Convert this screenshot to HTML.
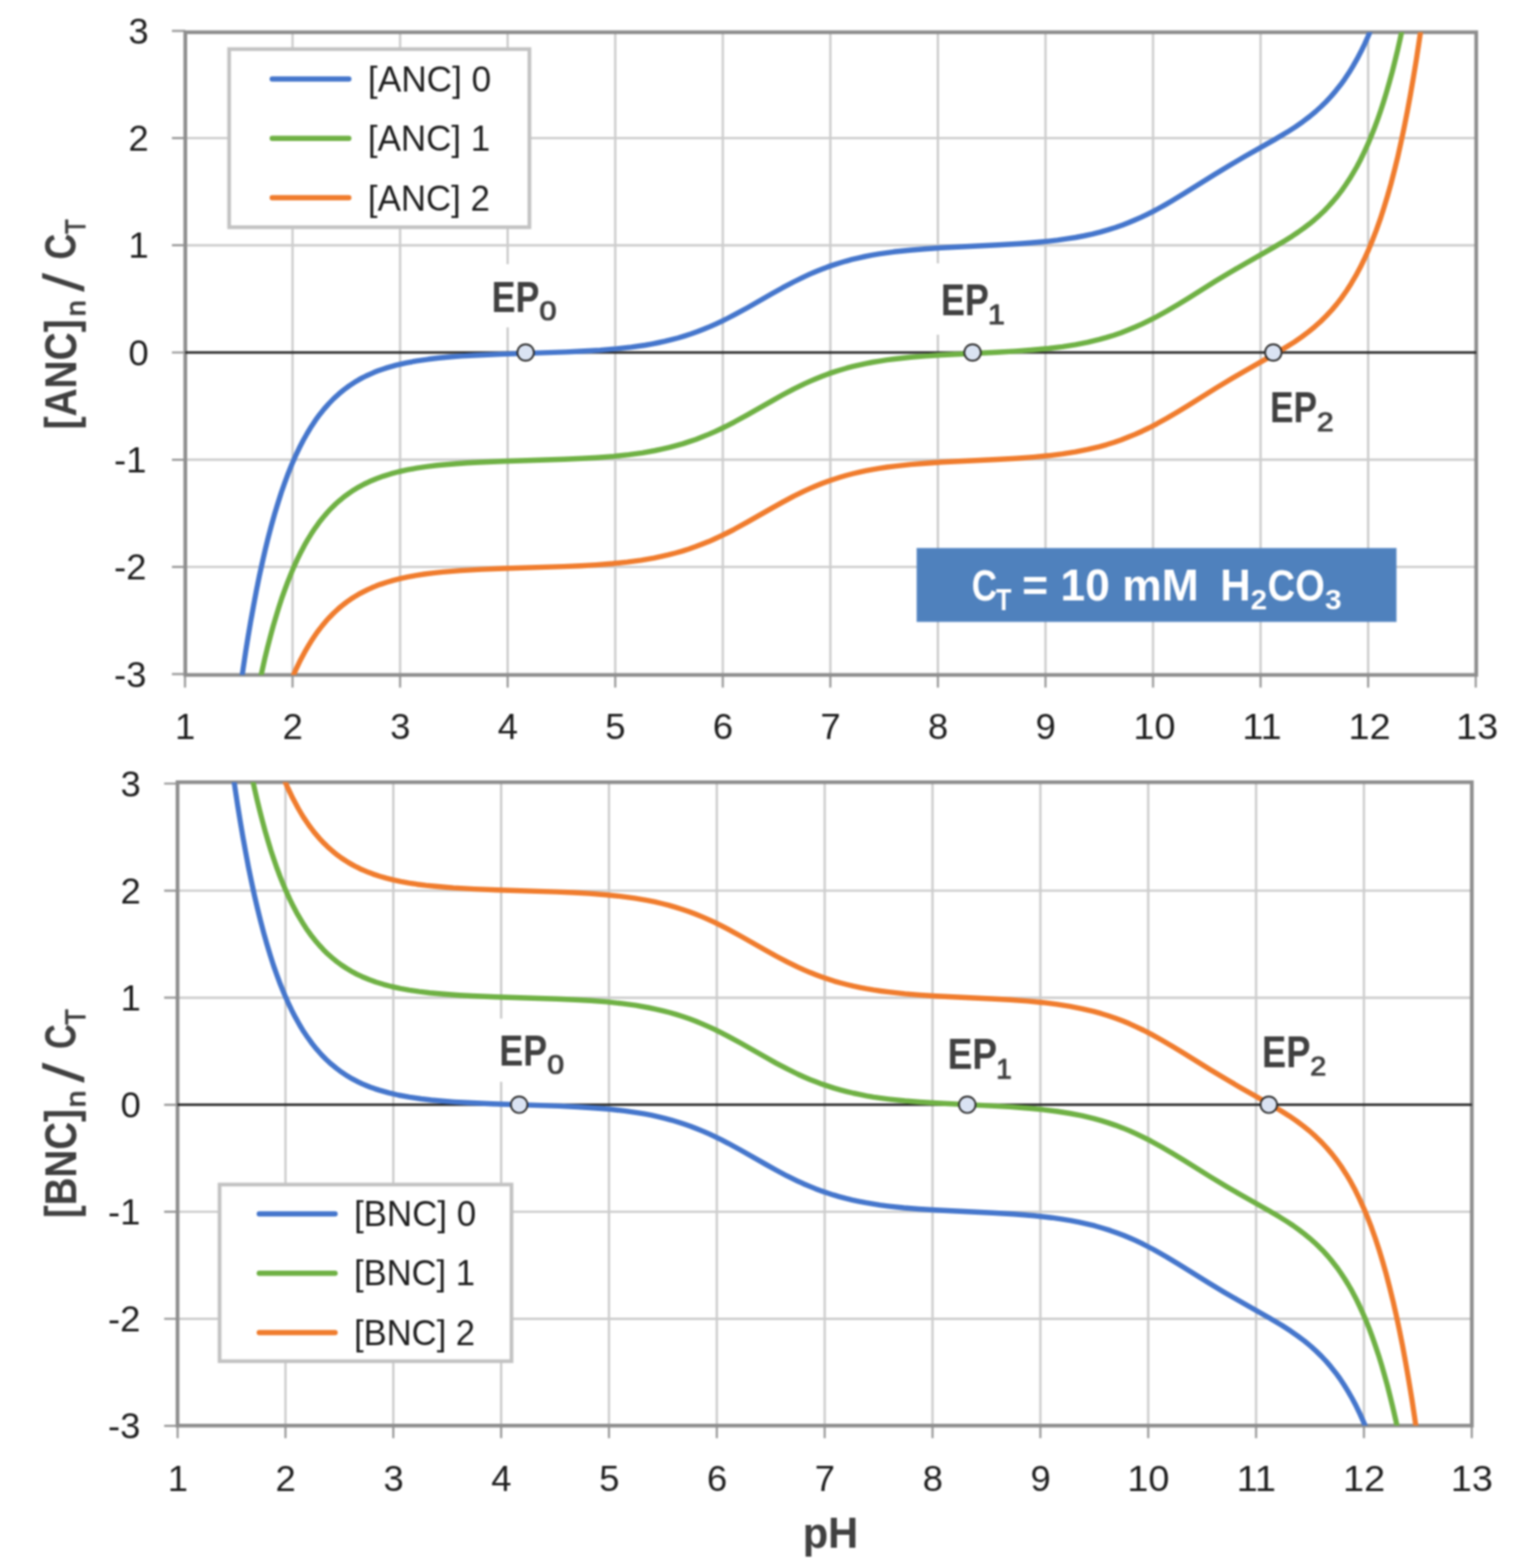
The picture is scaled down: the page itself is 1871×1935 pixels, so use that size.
<!DOCTYPE html><html><head><meta charset="utf-8"><style>html,body{margin:0;padding:0;background:#fff}svg{display:block;filter:blur(0.9px)}text{font-family:"Liberation Sans", sans-serif}</style></head><body>
<svg width="1871" height="1935" viewBox="0 0 1871 1935">
<rect width="1871" height="1935" fill="#fff"/>
<defs><clipPath id="clip0"><rect x="228.70" y="39.80" width="1593.20" height="793.10"/></clipPath></defs>
<path d="M361.05,39.80V832.90 M493.80,39.80V832.90 M626.55,39.80V832.90 M759.30,39.80V832.90 M892.05,39.80V832.90 M1024.80,39.80V832.90 M1157.55,39.80V832.90 M1290.30,39.80V832.90 M1423.05,39.80V832.90 M1555.80,39.80V832.90 M1688.55,39.80V832.90 M228.70,699.60H1821.90 M228.70,567.30H1821.90 M228.70,302.70H1821.90 M228.70,170.40H1821.90" stroke="#cdcdcd" stroke-width="2.9" fill="none"/>
<path d="M228.30,832.90V848.40 M361.05,832.90V848.40 M493.80,832.90V848.40 M626.55,832.90V848.40 M759.30,832.90V848.40 M892.05,832.90V848.40 M1024.80,832.90V848.40 M1157.55,832.90V848.40 M1290.30,832.90V848.40 M1423.05,832.90V848.40 M1555.80,832.90V848.40 M1688.55,832.90V848.40 M1821.30,832.90V848.40 M212.20,831.90H228.70 M212.20,699.60H228.70 M212.20,567.30H228.70 M212.20,435.00H228.70 M212.20,302.70H228.70 M212.20,170.40H228.70 M212.20,38.10H228.70" stroke="#9c9c9c" stroke-width="2.7" fill="none"/>
<rect x="228.70" y="39.80" width="1593.20" height="793.10" fill="none" stroke="#8e8e8e" stroke-width="4.6"/>
<path d="M228.70,435.00H1821.90" stroke="#262626" stroke-width="3.0"/>
<g clip-path="url(#clip0)" fill="none" stroke-width="6.4" stroke-linejoin="round">
<g transform="translate(1.2,1.0)">
<path d="M292.3,871.1L295.5,847.6L298.7,825.4L301.8,804.5L305.0,784.6L308.2,765.8L311.7,746.6L315.1,728.5L318.8,710.1L322.3,694.2L326.0,678.0L329.7,662.8L333.7,647.6L337.7,633.4L341.7,620.2L345.9,607.0L350.2,594.8L354.4,583.4L358.9,572.3L363.4,561.9L368.2,551.8L373.0,542.5L377.8,534.0L382.8,525.7L388.1,517.7L393.4,510.4L399.0,503.5L404.9,496.9L410.7,490.9L416.8,485.3L423.2,480.0L429.8,475.1L436.7,470.6L441.2,467.9L445.7,465.4L450.5,463.0L455.3,460.8L460.3,458.6L465.4,456.6L470.7,454.7L476.3,452.9L487.7,449.7L499.9,446.8L513.2,444.4L527.5,442.3L540.0,440.8L553.5,439.5L568.1,438.4L584.3,437.5L615.9,436.1L697.7,433.4L720.0,432.3L739.4,431.1L759.6,429.4L777.9,427.4L794.9,425.0L802.8,423.6L810.8,422.0L819.3,420.2L827.5,418.2L835.8,416.0L843.7,413.6L851.7,411.0L859.4,408.3L867.1,405.3L874.8,402.1L882.2,398.8L889.7,395.3L897.4,391.5L905.3,387.4L921.3,378.7L951.8,361.3L964.5,354.2L978.1,347.0L990.6,340.8L998.0,337.4L1005.4,334.2L1012.9,331.2L1020.3,328.4L1027.7,325.9L1035.2,323.5L1042.6,321.3L1050.3,319.2L1058.3,317.3L1066.5,315.5L1074.7,313.9L1083.5,312.4L1092.5,311.1L1101.8,309.8L1121.7,307.7L1139.8,306.2L1160.5,304.8L1230.8,301.3L1256.8,299.8L1269.9,298.8L1281.8,297.8L1293.2,296.6L1303.8,295.4L1315.5,293.7L1326.4,292.0L1336.8,290.0L1346.9,287.8L1356.7,285.3L1366.2,282.6L1375.5,279.7L1384.8,276.4L1392.3,273.5L1399.4,270.5L1406.6,267.3L1414.0,263.8L1421.5,260.1L1429.2,256.0L1437.1,251.6L1445.4,246.8L1460.2,237.8L1497.1,214.8L1515.7,203.5L1534.8,192.3L1571.7,171.4L1587.4,162.1L1597.5,155.6L1606.5,149.3L1615.0,142.9L1622.7,136.5L1629.3,130.5L1635.7,124.2L1641.6,117.9L1647.4,111.1L1653.0,104.1L1658.3,96.8L1663.6,88.8L1668.6,80.6L1673.7,71.7L1678.5,62.6L1683.0,53.3L1687.5,43.3L1691.7,33.2L1696.0,22.3L1700.2,10.7L1704.2,-1.1" stroke="#4576cc"/>
<path d="M313.3,870.4L319.4,839.9L322.6,825.3L325.7,811.4L328.9,798.3L332.4,784.8L335.8,772.2L339.3,760.3L342.7,749.1L346.4,737.7L350.2,727.1L353.9,717.1L357.9,707.1L361.8,697.8L365.8,689.1L370.1,680.4L374.3,672.4L378.6,664.9L383.1,657.6L387.6,650.8L392.4,644.1L397.2,638.0L402.2,632.1L407.2,626.7L412.6,621.4L417.9,616.7L423.4,612.1L429.3,607.8L435.4,603.7L441.5,600.1L448.1,596.5L454.8,593.3L463.3,589.7L472.0,586.6L481.3,583.7L491.4,581.0L502.0,578.7L513.2,576.7L525.1,574.9L538.1,573.3L549.6,572.2L562.0,571.2L575.3,570.3L589.9,569.5L618.9,568.3L695.3,565.8L717.1,564.8L735.9,563.7L756.4,562.1L774.7,560.1L791.7,557.8L807.4,555.0L816.1,553.2L824.9,551.2L833.4,548.9L841.6,546.6L849.8,543.9L857.8,541.2L865.8,538.1L873.7,534.9L881.2,531.6L888.9,528.0L896.8,524.1L905.1,519.8L921.0,511.1L951.8,493.6L964.8,486.3L978.3,479.1L991.1,472.9L998.8,469.4L1006.2,466.2L1013.6,463.2L1021.1,460.4L1028.5,457.9L1036.2,455.5L1043.9,453.2L1051.6,451.2L1059.6,449.3L1067.5,447.6L1075.8,446.0L1084.5,444.6L1093.6,443.2L1102.9,442.0L1123.0,439.8L1141.1,438.4L1161.5,437.0L1229.0,433.7L1252.3,432.4L1273.8,430.8L1293.0,429.0L1310.2,426.8L1326.1,424.3L1341.3,421.3L1355.6,417.9L1364.6,415.4L1373.4,412.7L1382.2,409.7L1390.9,406.3L1399.4,402.8L1408.2,398.9L1416.9,394.7L1426.0,390.0L1438.7,383.0L1452.8,374.7L1465.5,366.9L1499.2,345.8L1518.9,333.9L1536.2,323.9L1570.1,304.6L1584.7,296.0L1593.2,290.7L1600.9,285.5L1608.1,280.4L1614.7,275.4L1621.1,270.2L1627.2,264.8L1633.1,259.2L1638.6,253.4L1643.9,247.5L1649.3,241.1L1654.3,234.6L1659.3,227.5L1664.1,220.3L1668.6,212.9L1673.2,205.0L1677.7,196.5L1681.9,187.9L1686.2,178.7L1690.4,168.7L1694.4,158.8L1698.4,148.2L1702.4,136.8L1706.1,125.5L1709.8,113.4L1713.5,100.5L1717.0,87.9L1720.4,74.4L1723.6,61.2L1727.0,46.2L1730.2,31.4L1733.4,15.9L1736.6,-0.6" stroke="#6fb144"/>
<path d="M346.2,870.8L351.8,855.0L357.6,840.1L363.7,825.9L369.8,813.2L376.2,801.3L379.4,795.9L382.8,790.3L386.3,785.0L389.7,780.0L393.2,775.4L396.9,770.6L400.6,766.2L404.3,762.0L408.3,757.9L412.3,754.0L416.3,750.3L420.5,746.7L424.8,743.4L429.0,740.3L433.5,737.2L438.0,734.4L442.8,731.6L447.6,729.1L452.6,726.6L457.7,724.3L463.0,722.1L468.3,720.1L476.3,717.5L484.5,715.1L493.3,712.9L502.6,710.9L512.1,709.1L522.5,707.5L533.6,706.1L545.3,704.9L567.3,703.1L593.4,701.6L620.4,700.5L694.3,698.1L715.8,697.2L734.3,696.1L754.8,694.5L773.1,692.6L790.1,690.3L806.0,687.6L815.1,685.7L823.8,683.7L832.3,681.5L840.8,679.1L849.0,676.5L857.3,673.6L865.2,670.6L873.5,667.3L880.9,664.0L888.6,660.4L896.6,656.5L904.8,652.3L921.0,643.4L951.8,625.9L964.8,618.6L978.3,611.4L991.1,605.2L998.8,601.7L1006.2,598.5L1013.6,595.5L1021.1,592.7L1028.5,590.2L1036.2,587.8L1043.9,585.5L1051.6,583.5L1059.6,581.6L1067.5,579.9L1075.8,578.3L1084.5,576.9L1093.6,575.5L1102.9,574.3L1123.0,572.1L1141.1,570.7L1161.5,569.3L1229.0,566.0L1252.3,564.7L1273.8,563.1L1293.0,561.3L1310.2,559.1L1326.1,556.6L1341.0,553.7L1355.3,550.3L1364.4,547.8L1373.4,545.0L1382.2,542.0L1390.9,538.6L1399.4,535.1L1408.2,531.2L1416.9,527.0L1426.0,522.3L1438.7,515.3L1452.8,507.0L1465.5,499.2L1499.2,478.1L1518.9,466.2L1536.2,456.2L1570.7,436.6L1586.3,427.3L1596.2,421.1L1605.2,414.9L1613.7,408.5L1621.4,402.2L1628.8,395.6L1635.7,388.8L1642.4,381.6L1648.7,374.1L1654.8,366.2L1660.9,357.5L1666.5,348.7L1672.1,339.2L1677.4,329.3L1682.7,318.5L1687.8,307.3L1692.5,295.8L1697.3,283.4L1702.1,269.9L1706.6,256.1L1711.1,241.2L1715.4,226.1L1719.6,209.9L1723.9,192.4L1727.8,174.9L1731.8,156.1L1735.8,135.9L1739.5,115.9L1743.2,94.5L1747.0,71.6L1750.4,49.1L1753.9,25.2L1757.3,-0.2" stroke="#f07c2d"/>
</g></g>
<circle cx="648.72" cy="435.00" r="10.2" fill="#dae3f3" stroke="#2a2a2a" stroke-width="2.2"/>
<circle cx="1200.30" cy="435.00" r="10.2" fill="#dae3f3" stroke="#2a2a2a" stroke-width="2.2"/>
<circle cx="1571.46" cy="435.00" r="10.2" fill="#dae3f3" stroke="#2a2a2a" stroke-width="2.2"/>
<text transform="translate(228.60,911.60) scale(1.0,1)" font-size="45" fill="#1e1e1e" text-anchor="middle">1</text>
<text transform="translate(361.35,911.60) scale(1.0,1)" font-size="45" fill="#1e1e1e" text-anchor="middle">2</text>
<text transform="translate(494.10,911.60) scale(1.0,1)" font-size="45" fill="#1e1e1e" text-anchor="middle">3</text>
<text transform="translate(626.85,911.60) scale(1.0,1)" font-size="45" fill="#1e1e1e" text-anchor="middle">4</text>
<text transform="translate(759.60,911.60) scale(1.0,1)" font-size="45" fill="#1e1e1e" text-anchor="middle">5</text>
<text transform="translate(892.35,911.60) scale(1.0,1)" font-size="45" fill="#1e1e1e" text-anchor="middle">6</text>
<text transform="translate(1025.10,911.60) scale(1.0,1)" font-size="45" fill="#1e1e1e" text-anchor="middle">7</text>
<text transform="translate(1157.85,911.60) scale(1.0,1)" font-size="45" fill="#1e1e1e" text-anchor="middle">8</text>
<text transform="translate(1290.60,911.60) scale(1.0,1)" font-size="45" fill="#1e1e1e" text-anchor="middle">9</text>
<text transform="translate(1424.85,911.60) scale(1.04,1)" font-size="45" fill="#1e1e1e" text-anchor="middle">10</text>
<text transform="translate(1557.60,911.60) scale(1.04,1)" font-size="45" fill="#1e1e1e" text-anchor="middle">11</text>
<text transform="translate(1690.35,911.60) scale(1.04,1)" font-size="45" fill="#1e1e1e" text-anchor="middle">12</text>
<text transform="translate(1823.10,911.60) scale(1.04,1)" font-size="45" fill="#1e1e1e" text-anchor="middle">13</text>
<text x="180.80" y="847.60" font-size="45" fill="#1e1e1e" text-anchor="end">-3</text>
<text x="180.80" y="715.30" font-size="45" fill="#1e1e1e" text-anchor="end">-2</text>
<text x="180.80" y="583.00" font-size="45" fill="#1e1e1e" text-anchor="end">-1</text>
<text x="183.50" y="450.70" font-size="45" fill="#1e1e1e" text-anchor="end">0</text>
<text x="183.50" y="318.40" font-size="45" fill="#1e1e1e" text-anchor="end">1</text>
<text x="183.50" y="186.10" font-size="45" fill="#1e1e1e" text-anchor="end">2</text>
<text x="183.50" y="53.80" font-size="45" fill="#1e1e1e" text-anchor="end">3</text>
<defs><clipPath id="clip1"><rect x="219.10" y="965.30" width="1597.40" height="794.00"/></clipPath></defs>
<path d="M352.30,965.30V1759.30 M485.40,965.30V1759.30 M618.50,965.30V1759.30 M751.60,965.30V1759.30 M884.70,965.30V1759.30 M1017.80,965.30V1759.30 M1150.90,965.30V1759.30 M1284.00,965.30V1759.30 M1417.10,965.30V1759.30 M1550.20,965.30V1759.30 M1683.30,965.30V1759.30 M219.10,1627.50H1816.50 M219.10,1495.40H1816.50 M219.10,1231.20H1816.50 M219.10,1099.10H1816.50" stroke="#cdcdcd" stroke-width="2.9" fill="none"/>
<path d="M219.20,1759.30V1774.80 M352.30,1759.30V1774.80 M485.40,1759.30V1774.80 M618.50,1759.30V1774.80 M751.60,1759.30V1774.80 M884.70,1759.30V1774.80 M1017.80,1759.30V1774.80 M1150.90,1759.30V1774.80 M1284.00,1759.30V1774.80 M1417.10,1759.30V1774.80 M1550.20,1759.30V1774.80 M1683.30,1759.30V1774.80 M1816.40,1759.30V1774.80 M202.60,1759.60H219.10 M202.60,1627.50H219.10 M202.60,1495.40H219.10 M202.60,1363.30H219.10 M202.60,1231.20H219.10 M202.60,1099.10H219.10 M202.60,967.00H219.10" stroke="#9c9c9c" stroke-width="2.7" fill="none"/>
<rect x="219.10" y="965.30" width="1597.40" height="794.00" fill="none" stroke="#8e8e8e" stroke-width="4.6"/>
<path d="M219.10,1363.30H1816.50" stroke="#262626" stroke-width="3.0"/>
<g clip-path="url(#clip1)" fill="none" stroke-width="6.4" stroke-linejoin="round">
<g transform="translate(0.5,0)">
<path d="M283.4,927.9L286.5,951.3L289.7,973.4L292.9,994.4L296.1,1014.2L299.3,1033.0L302.8,1052.2L306.2,1070.3L310.0,1088.6L313.4,1104.5L317.2,1120.7L320.9,1135.8L324.9,1151.0L328.9,1165.2L332.9,1178.4L337.1,1191.6L341.4,1203.8L345.6,1215.1L350.2,1226.2L354.7,1236.6L359.5,1246.7L364.3,1255.9L369.1,1264.5L374.1,1272.8L379.5,1280.7L384.8,1288.0L390.4,1294.9L396.2,1301.5L402.1,1307.5L408.2,1313.1L414.6,1318.3L421.2,1323.2L428.2,1327.8L432.7,1330.4L437.2,1332.9L442.0,1335.3L446.8,1337.6L451.9,1339.7L456.9,1341.7L462.2,1343.6L467.8,1345.4L479.3,1348.7L491.5,1351.5L504.8,1353.9L519.2,1356.0L531.7,1357.5L545.3,1358.8L559.9,1359.9L576.2,1360.8L607.9,1362.2L689.8,1364.9L712.2,1366.0L731.6,1367.2L751.9,1368.8L770.2,1370.9L787.3,1373.3L795.3,1374.7L803.2,1376.2L811.8,1378.1L820.0,1380.1L828.3,1382.3L836.3,1384.7L844.2,1387.3L852.0,1390.0L859.7,1393.0L867.4,1396.1L874.9,1399.4L882.3,1402.9L890.0,1406.7L898.0,1410.8L914.0,1419.5L944.6,1436.9L957.4,1444.0L970.9,1451.2L983.5,1457.3L990.9,1460.7L998.4,1463.9L1005.8,1466.9L1013.3,1469.7L1020.7,1472.3L1028.2,1474.7L1035.6,1476.8L1043.4,1478.9L1051.3,1480.8L1059.6,1482.6L1067.8,1484.2L1076.6,1485.7L1085.7,1487.1L1095.0,1488.3L1115.0,1490.5L1133.1,1492.0L1153.8,1493.3L1224.4,1496.8L1250.5,1498.3L1263.5,1499.3L1275.5,1500.3L1286.9,1501.5L1297.6,1502.7L1309.3,1504.3L1320.2,1506.1L1330.6,1508.1L1340.7,1510.3L1350.6,1512.7L1360.1,1515.5L1369.5,1518.4L1378.8,1521.7L1386.2,1524.5L1393.4,1527.5L1400.6,1530.7L1408.0,1534.2L1415.5,1538.0L1423.2,1542.0L1431.2,1546.5L1439.5,1551.2L1454.4,1560.2L1491.4,1583.2L1510.0,1594.5L1529.2,1605.6L1566.2,1626.5L1581.9,1635.8L1592.0,1642.3L1601.0,1648.6L1609.6,1655.0L1617.3,1661.4L1623.9,1667.4L1630.3,1673.6L1636.2,1679.9L1642.0,1686.7L1647.6,1693.7L1653.0,1701.0L1658.3,1709.0L1663.3,1717.1L1668.4,1726.0L1673.2,1735.1L1677.7,1744.4L1682.2,1754.4L1686.5,1764.5L1690.8,1775.3L1695.0,1787.0L1699.0,1798.7" stroke="#4576cc"/>
<path d="M304.4,928.6L310.5,959.0L313.7,973.6L316.9,987.5L320.1,1000.6L323.6,1014.0L327.0,1026.6L330.5,1038.5L333.9,1049.7L337.7,1061.0L341.4,1071.7L345.1,1081.6L349.1,1091.6L353.1,1100.9L357.1,1109.6L361.4,1118.3L365.6,1126.3L369.9,1133.7L374.4,1141.1L378.9,1147.9L383.7,1154.5L388.5,1160.6L393.6,1166.5L398.6,1171.9L403.9,1177.2L409.3,1181.9L414.9,1186.5L420.7,1190.8L426.8,1194.8L433.0,1198.5L439.6,1202.1L446.3,1205.2L454.8,1208.8L463.6,1212.0L472.9,1214.8L483.0,1217.5L493.7,1219.8L504.8,1221.8L516.8,1223.6L529.9,1225.2L541.3,1226.3L553.8,1227.3L567.1,1228.2L581.8,1229.0L610.8,1230.2L687.4,1232.7L709.3,1233.7L728.2,1234.8L748.7,1236.4L767.0,1238.4L784.1,1240.7L799.8,1243.5L808.6,1245.3L817.4,1247.3L825.9,1249.5L834.1,1251.9L842.4,1254.5L850.4,1257.3L858.3,1260.3L866.3,1263.6L873.8,1266.9L881.5,1270.4L889.5,1274.4L897.7,1278.6L913.7,1287.3L944.6,1304.8L957.6,1312.1L971.2,1319.2L984.0,1325.5L991.7,1329.0L999.2,1332.2L1006.6,1335.1L1014.1,1337.9L1021.5,1340.4L1029.2,1342.9L1037.0,1345.1L1044.7,1347.1L1052.7,1349.0L1060.7,1350.7L1068.9,1352.3L1077.7,1353.8L1086.7,1355.1L1096.1,1356.3L1116.3,1358.5L1134.4,1360.0L1154.9,1361.3L1222.5,1364.6L1245.9,1365.9L1267.5,1367.5L1286.7,1369.3L1304.0,1371.5L1319.9,1374.0L1335.1,1376.9L1349.5,1380.4L1358.5,1382.9L1367.3,1385.6L1376.1,1388.6L1384.9,1391.9L1393.4,1395.4L1402.2,1399.4L1411.0,1403.6L1420.0,1408.2L1432.8,1415.3L1446.9,1423.5L1459.7,1431.3L1493.5,1452.4L1513.2,1464.2L1530.5,1474.3L1564.6,1493.5L1579.2,1502.1L1587.7,1507.4L1595.5,1512.5L1602.6,1517.6L1609.3,1522.7L1615.7,1527.9L1621.8,1533.3L1627.7,1538.9L1633.3,1544.6L1638.6,1550.5L1643.9,1556.9L1649.0,1563.4L1654.0,1570.5L1658.8,1577.7L1663.3,1585.0L1667.9,1592.9L1672.4,1601.4L1676.6,1610.0L1680.9,1619.3L1685.2,1629.1L1689.2,1639.1L1693.1,1649.7L1697.1,1661.1L1700.9,1672.4L1704.6,1684.4L1708.3,1697.3L1711.8,1709.9L1715.2,1723.4L1718.4,1736.5L1721.9,1751.5L1725.1,1766.3L1728.3,1781.8L1731.5,1798.2" stroke="#6fb144"/>
<path d="M337.4,928.1L343.0,943.9L348.8,958.9L355.0,973.0L361.1,985.6L367.5,997.5L370.7,1003.0L374.1,1008.6L377.6,1013.8L381.0,1018.8L384.5,1023.4L388.2,1028.2L392.0,1032.6L395.7,1036.8L399.7,1040.9L403.7,1044.8L407.7,1048.4L411.9,1052.0L416.2,1055.4L420.4,1058.5L425.0,1061.5L429.5,1064.4L434.3,1067.1L439.1,1069.7L444.1,1072.2L449.2,1074.4L454.5,1076.6L459.8,1078.6L467.8,1081.2L476.1,1083.6L484.9,1085.8L494.2,1087.8L503.8,1089.6L514.1,1091.2L525.3,1092.6L537.0,1093.8L559.1,1095.6L585.2,1097.1L612.4,1098.2L686.4,1100.6L707.9,1101.5L726.6,1102.6L747.1,1104.2L765.4,1106.1L782.5,1108.4L798.5,1111.1L807.5,1112.9L816.3,1115.0L824.8,1117.1L833.3,1119.6L841.6,1122.2L849.8,1125.0L857.8,1128.0L866.1,1131.4L873.5,1134.6L881.2,1138.2L889.2,1142.1L897.5,1146.4L913.7,1155.2L944.6,1172.7L957.6,1180.0L971.2,1187.1L984.0,1193.4L991.7,1196.9L999.2,1200.1L1006.6,1203.0L1014.1,1205.8L1021.5,1208.3L1029.2,1210.8L1037.0,1213.0L1044.7,1215.0L1052.7,1216.9L1060.7,1218.6L1068.9,1220.2L1077.7,1221.7L1086.7,1223.0L1096.1,1224.2L1116.3,1226.4L1134.4,1227.9L1154.9,1229.2L1222.5,1232.5L1245.9,1233.8L1267.5,1235.4L1286.7,1237.2L1304.0,1239.4L1319.9,1241.9L1334.8,1244.8L1349.2,1248.2L1358.3,1250.7L1367.3,1253.5L1376.1,1256.5L1384.9,1259.8L1393.4,1263.3L1402.2,1267.3L1411.0,1271.5L1420.0,1276.1L1432.8,1283.2L1446.9,1291.4L1459.7,1299.2L1493.5,1320.3L1513.2,1332.1L1530.5,1342.2L1565.1,1361.7L1580.8,1371.0L1590.7,1377.2L1599.7,1383.4L1608.2,1389.8L1616.0,1396.0L1623.4,1402.7L1630.3,1409.4L1637.0,1416.6L1643.4,1424.1L1649.5,1432.0L1655.6,1440.7L1661.2,1449.4L1666.8,1458.9L1672.1,1468.8L1677.4,1479.6L1682.5,1490.8L1687.3,1502.3L1692.1,1514.7L1696.9,1528.2L1701.4,1541.9L1705.9,1556.8L1710.2,1571.9L1714.4,1588.1L1718.7,1605.5L1722.7,1623.0L1726.7,1641.8L1730.7,1661.9L1734.4,1682.0L1738.1,1703.3L1741.9,1726.1L1745.3,1748.6L1748.8,1772.5L1752.2,1797.9" stroke="#f07c2d"/>
</g></g>
<circle cx="640.73" cy="1363.30" r="10.2" fill="#dae3f3" stroke="#2a2a2a" stroke-width="2.2"/>
<circle cx="1193.76" cy="1363.30" r="10.2" fill="#dae3f3" stroke="#2a2a2a" stroke-width="2.2"/>
<circle cx="1565.91" cy="1363.30" r="10.2" fill="#dae3f3" stroke="#2a2a2a" stroke-width="2.2"/>
<text transform="translate(219.50,1839.50) scale(1.0,1)" font-size="45" fill="#1e1e1e" text-anchor="middle">1</text>
<text transform="translate(352.60,1839.50) scale(1.0,1)" font-size="45" fill="#1e1e1e" text-anchor="middle">2</text>
<text transform="translate(485.70,1839.50) scale(1.0,1)" font-size="45" fill="#1e1e1e" text-anchor="middle">3</text>
<text transform="translate(618.80,1839.50) scale(1.0,1)" font-size="45" fill="#1e1e1e" text-anchor="middle">4</text>
<text transform="translate(751.90,1839.50) scale(1.0,1)" font-size="45" fill="#1e1e1e" text-anchor="middle">5</text>
<text transform="translate(885.00,1839.50) scale(1.0,1)" font-size="45" fill="#1e1e1e" text-anchor="middle">6</text>
<text transform="translate(1018.10,1839.50) scale(1.0,1)" font-size="45" fill="#1e1e1e" text-anchor="middle">7</text>
<text transform="translate(1151.20,1839.50) scale(1.0,1)" font-size="45" fill="#1e1e1e" text-anchor="middle">8</text>
<text transform="translate(1284.30,1839.50) scale(1.0,1)" font-size="45" fill="#1e1e1e" text-anchor="middle">9</text>
<text transform="translate(1417.30,1839.50) scale(1.04,1)" font-size="45" fill="#1e1e1e" text-anchor="middle">10</text>
<text transform="translate(1550.40,1839.50) scale(1.04,1)" font-size="45" fill="#1e1e1e" text-anchor="middle">11</text>
<text transform="translate(1683.50,1839.50) scale(1.04,1)" font-size="45" fill="#1e1e1e" text-anchor="middle">12</text>
<text transform="translate(1816.60,1839.50) scale(1.04,1)" font-size="45" fill="#1e1e1e" text-anchor="middle">13</text>
<text x="173.20" y="1775.30" font-size="45" fill="#1e1e1e" text-anchor="end">-3</text>
<text x="173.20" y="1643.20" font-size="45" fill="#1e1e1e" text-anchor="end">-2</text>
<text x="173.20" y="1511.10" font-size="45" fill="#1e1e1e" text-anchor="end">-1</text>
<text x="173.90" y="1379.00" font-size="45" fill="#1e1e1e" text-anchor="end">0</text>
<text x="173.90" y="1246.90" font-size="45" fill="#1e1e1e" text-anchor="end">1</text>
<text x="173.90" y="1114.80" font-size="45" fill="#1e1e1e" text-anchor="end">2</text>
<text x="173.90" y="982.70" font-size="45" fill="#1e1e1e" text-anchor="end">3</text>
<rect x="600" y="326" width="96" height="78" fill="#fff"/>
<text transform="translate(606.72,384.70) scale(0.8129,1)" font-size="54.40" font-weight="bold" fill="#404040">EP</text>
<text transform="translate(665.78,394.97) scale(1.1461,1)" font-size="33.07" fill="#404040" stroke="#404040" stroke-width="1.2" stroke-linejoin="round">0</text>
<rect x="1152" y="325" width="98" height="88" fill="#fff"/>
<text transform="translate(1161.20,389.00) scale(0.8130,1)" font-size="54.69" font-weight="bold" fill="#404040">EP</text>
<text transform="translate(1219.27,400.00) scale(1.0751,1)" font-size="35.05" fill="#404040" stroke="#404040" stroke-width="1.2" stroke-linejoin="round">1</text>
<rect x="1562" y="470" width="93" height="75" fill="#fff"/>
<text transform="translate(1567.57,521.10) scale(0.8044,1)" font-size="53.96" font-weight="bold" fill="#404040">EP</text>
<text transform="translate(1625.24,532.30) scale(1.0931,1)" font-size="33.98" fill="#404040" stroke="#404040" stroke-width="1.2" stroke-linejoin="round">2</text>
<rect x="610" y="1257" width="96" height="78" fill="#fff"/>
<text transform="translate(616.32,1314.70) scale(0.8129,1)" font-size="54.40" font-weight="bold" fill="#404040">EP</text>
<text transform="translate(675.42,1324.97) scale(1.1208,1)" font-size="33.07" fill="#404040" stroke="#404040" stroke-width="1.2" stroke-linejoin="round">0</text>
<rect x="1162" y="1262" width="96" height="78" fill="#fff"/>
<text transform="translate(1169.41,1319.40) scale(0.8564,1)" font-size="53.53" font-weight="bold" fill="#404040">EP</text>
<text transform="translate(1229.52,1331.20) scale(0.9828,1)" font-size="35.05" fill="#404040" stroke="#404040" stroke-width="1.2" stroke-linejoin="round">1</text>
<rect x="1556" y="1258" width="90" height="80" fill="#fff"/>
<text transform="translate(1557.58,1316.60) scale(0.8039,1)" font-size="55.71" font-weight="bold" fill="#404040">EP</text>
<text transform="translate(1617.12,1326.60) scale(1.0479,1)" font-size="33.98" fill="#404040" stroke="#404040" stroke-width="1.2" stroke-linejoin="round">2</text>
<rect x="282.8" y="60.6" width="370.59999999999997" height="219.79999999999998" fill="#fff" stroke="#c3c3c3" stroke-width="4.6"/>
<path d="M336,97.60H430.5" stroke="#4576cc" stroke-width="6.5" stroke-linecap="round"/>
<text transform="translate(454.06,113.10) scale(0.9642,1)" font-size="45.09" fill="#1e1e1e">[ANC] 0</text>
<path d="M336,170.85H430.5" stroke="#6fb144" stroke-width="6.5" stroke-linecap="round"/>
<text transform="translate(454.08,186.35) scale(0.9566,1)" font-size="45.09" fill="#1e1e1e">[ANC] 1</text>
<path d="M336,244.10H430.5" stroke="#f07c2d" stroke-width="6.5" stroke-linecap="round"/>
<text transform="translate(454.09,259.60) scale(0.9534,1)" font-size="45.09" fill="#1e1e1e">[ANC] 2</text>
<rect x="271" y="1461.8" width="360.29999999999995" height="218.0" fill="#fff" stroke="#c3c3c3" stroke-width="4.6"/>
<path d="M320,1498.10H413.5" stroke="#4576cc" stroke-width="6.5" stroke-linecap="round"/>
<text transform="translate(436.89,1513.10) scale(0.9520,1)" font-size="45.24" fill="#1e1e1e">[BNC] 0</text>
<path d="M320,1571.35H413.5" stroke="#6fb144" stroke-width="6.5" stroke-linecap="round"/>
<text transform="translate(436.91,1586.35) scale(0.9431,1)" font-size="45.24" fill="#1e1e1e">[BNC] 1</text>
<path d="M320,1644.60H413.5" stroke="#f07c2d" stroke-width="6.5" stroke-linecap="round"/>
<text transform="translate(436.91,1659.60) scale(0.9438,1)" font-size="45.24" fill="#1e1e1e">[BNC] 2</text>
<rect x="1132" y="677" width="590.8" height="89.8" fill="#4f81bd" stroke="#5b8bc6" stroke-width="1.5"/>
<text transform="translate(1199.27,740.86) scale(0.8030,1)" font-size="53.99" font-weight="bold" fill="#ffffff">C</text>
<text transform="translate(1229.29,752.60) scale(0.8441,1)" font-size="36.95" font-weight="bold" fill="#ffffff">T</text>
<text transform="translate(1261.47,741.00) scale(0.9976,1)" font-size="54.98" font-weight="bold" fill="#ffffff">= 10 mM</text>
<text transform="translate(1506.00,741.00) scale(0.9442,1)" font-size="54.98" font-weight="bold" fill="#ffffff">H</text>
<text transform="translate(1543.52,752.20) scale(1.0557,1)" font-size="34.55" font-weight="bold" fill="#ffffff">2</text>
<text transform="translate(1564.52,740.86) scale(0.8702,1)" font-size="53.99" font-weight="bold" fill="#ffffff">CO</text>
<text transform="translate(1635.37,752.37) scale(1.0631,1)" font-size="34.79" font-weight="bold" fill="#ffffff">3</text>
<text transform="translate(93.50,530.04) rotate(-90) scale(0.8755,1)" font-size="54.84" font-weight="bold" fill="#404040">[ANC]</text>
<text transform="translate(105.40,390.20) rotate(-90) scale(1.0436,1)" font-size="34.05" fill="#404040" stroke="#404040" stroke-width="1.2" stroke-linejoin="round">n</text>
<text transform="translate(102.60,360.30) rotate(-90) scale(1.2039,1)" font-size="70.34" fill="#404040">/</text>
<text transform="translate(93.36,320.17) rotate(-90) scale(0.8243,1)" font-size="53.71" font-weight="bold" fill="#404040">C</text>
<text transform="translate(104.90,288.77) rotate(-90) scale(0.8394,1)" font-size="35.64" fill="#404040" stroke="#404040" stroke-width="1.2" stroke-linejoin="round">T</text>
<text transform="translate(93.50,1503.32) rotate(-90) scale(0.8674,1)" font-size="54.84" font-weight="bold" fill="#404040">[BNC]</text>
<text transform="translate(105.40,1366.53) rotate(-90) scale(1.0988,1)" font-size="34.05" fill="#404040" stroke="#404040" stroke-width="1.2" stroke-linejoin="round">n</text>
<text transform="translate(102.60,1336.30) rotate(-90) scale(1.2757,1)" font-size="70.34" fill="#404040">/</text>
<text transform="translate(93.36,1294.60) rotate(-90) scale(0.7902,1)" font-size="53.71" font-weight="bold" fill="#404040">C</text>
<text transform="translate(104.90,1264.81) rotate(-90) scale(0.8890,1)" font-size="35.64" fill="#404040" stroke="#404040" stroke-width="1.2" stroke-linejoin="round">T</text>
<text transform="translate(990.66,1909.70) scale(0.9606,1)" font-size="53.53" font-weight="bold" fill="#404040">pH</text>
</svg></body></html>
